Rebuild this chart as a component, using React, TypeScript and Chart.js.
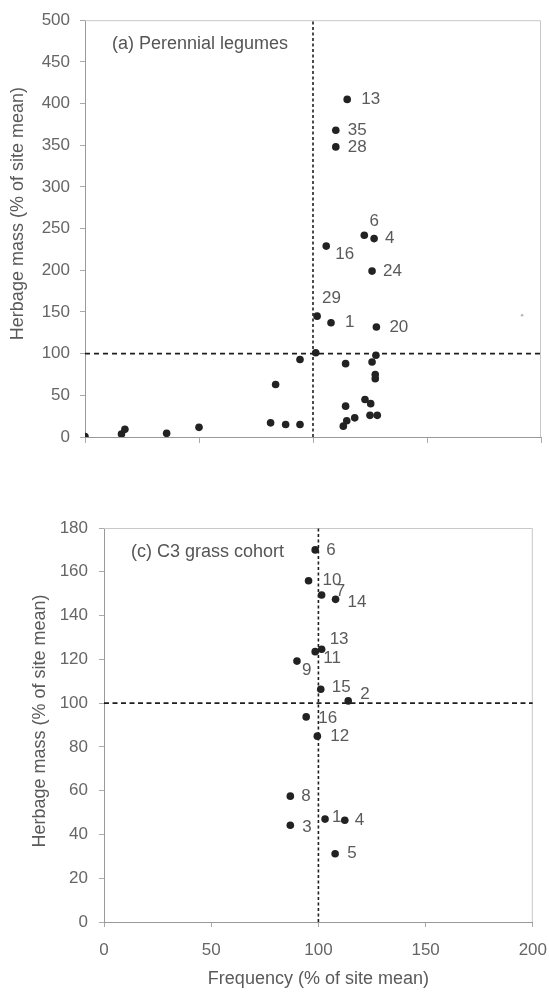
import React, { useEffect, useRef } from 'react';
import { Chart, registerables } from 'chart.js';

Chart.register(...registerables);

// ---------------- Panel (a): Perennial legumes ----------------
const legumeLabels = ['13', '35', '28', '6', '4', '16', '24', '29', '1', '20'];
const legumeLabeledX = [115.0, 110.0, 110.0, 122.5, 126.8, 105.8, 125.9, 101.8, 107.9, 127.8];
const legumeLabeledY = [405, 368, 348, 242, 238, 229, 199, 145, 137, 132];

const legumeOtherX = [101.2, 94.3, 114.3, 127.6, 125.9, 127.3, 127.3, 83.6, 114.3, 122.8, 125.3, 125.0, 128.2, 118.3, 114.8, 113.3, 81.4, 88.0, 94.3, 0.0, 16.0, 17.5, 35.8, 50.0];
const legumeOtherY = [101, 93, 88, 98, 90, 75, 70, 63, 37, 45, 40, 26, 26, 23, 19.5, 13, 17, 15, 15, 0.4, 3.6, 9.2, 4.4, 11.6];

const legumeFaintX = [191.7];
const legumeFaintY = [146];

const legumeTitle = '(a) Perennial legumes';
const legumeXMin = 0;
const legumeXMax = 200;
const legumeXStep = 50;
const legumeYMin = 0;
const legumeYMax = 500;
const legumeYStep = 50;

// ---------------- Panel (c): C3 grass cohort ----------------
const c3Labels = ['6', '10', '7', '14', '13', '11', '9', '15', '2', '16', '12', '8', '3', '1', '4', '5'];
const c3X = [98.5, 95.4, 101.5, 108.0, 101.5, 98.5, 90.0, 101.1, 113.9, 94.3, 99.5, 86.9, 86.9, 103.1, 112.3, 107.8];
const c3Y = [170.0, 155.9, 149.4, 147.4, 124.6, 123.5, 119.2, 106.3, 101.0, 93.7, 84.9, 57.5, 44.2, 47.0, 46.5, 31.2];

const c3Title = '(c) C3 grass cohort';
const c3XMin = 0;
const c3XMax = 200;
const c3XStep = 50;
const c3YMin = 0;
const c3YMax = 180;
const c3YStep = 20;

// Reference (site mean) lines
const siteMean = 100;

const yAxisTitle = 'Herbage mass (% of site mean)';
const xAxisTitle = 'Frequency (% of site mean)';

// ---------------- Styling (not data) ----------------
const FONT = "'Liberation Sans', Arial, sans-serif";
const legumePlacement: Record<string, { dx: number; dy: number; align?: CanvasTextAlign }> = {
  '13': { dx: 14, dy: 0 },
  '35': { dx: 12, dy: 0 },
  '28': { dx: 12, dy: 0 },
  '6': { dx: 10, dy: -14, align: 'center' },
  '4': { dx: 11, dy: 0 },
  '16': { dx: 9, dy: 8 },
  '24': { dx: 11, dy: 0 },
  '29': { dx: 5, dy: -18 },
  '1': { dx: 14, dy: 0 },
  '20': { dx: 13, dy: 0 },
};
const c3Placement: Record<string, { dx: number; dy: number; align?: CanvasTextAlign }> = {
  '6': { dx: 11, dy: 0 },
  '10': { dx: 14, dy: 0 },
  '7': { dx: 14, dy: -4 },
  '14': { dx: 12, dy: 3 },
  '13': { dx: 8, dy: -10 },
  '11': { dx: 8, dy: 7 },
  '9': { dx: 5, dy: 9 },
  '15': { dx: 11, dy: -2 },
  '2': { dx: 12, dy: -7 },
  '16': { dx: 12, dy: 1 },
  '12': { dx: 13, dy: 0 },
  '8': { dx: 11, dy: 0 },
  '3': { dx: 12, dy: 2 },
  '1': { dx: 7, dy: -2 },
  '4': { dx: 10, dy: 0 },
  '5': { dx: 12, dy: 0 },
};

const decorPlugin = {
  id: 'decor',
  beforeDatasetsDraw(chart: any, _a: any, opts: any) {
    const { ctx, chartArea: a } = chart;
    ctx.save();
    ctx.strokeStyle = opts.frameColor || '#c8c8c8';
    ctx.lineWidth = 1;
    ctx.beginPath();
    ctx.moveTo(a.left, a.top + 0.5);
    ctx.lineTo(a.right - 0.5, a.top + 0.5);
    ctx.lineTo(a.right - 0.5, a.bottom);
    ctx.stroke();
    ctx.restore();
  },
  afterDatasetsDraw(chart: any, _a: any, opts: any) {
    const { ctx, chartArea: a } = chart;
    ctx.save();
    // point labels
    const meta = chart.getDatasetMeta(0);
    ctx.font = `17px ${FONT}`;
    ctx.fillStyle = '#5a5a5a';
    ctx.textBaseline = 'middle';
    meta.data.forEach((pt: any, i: number) => {
      const lab = opts.labels[i];
      const p = opts.placement[lab] || { dx: 12, dy: 0 };
      ctx.textAlign = p.align || 'left';
      ctx.fillText(lab, pt.x + p.dx, pt.y + p.dy);
    });
    // panel title
    ctx.font = `18px ${FONT}`;
    ctx.textAlign = 'left';
    ctx.fillStyle = '#555';
    ctx.fillText(opts.panelTitle, a.left + 27, a.top + 24);
    // y axis title
    ctx.translate(opts.yTitleX, (a.top + a.bottom) / 2 + opts.yTitleShift);
    ctx.rotate(-Math.PI / 2);
    ctx.textAlign = 'center';
    ctx.fillStyle = '#5a5a5a';
    ctx.fillText(yAxisTitle, 0, 0);
    ctx.restore();
  },
};

function toPoints(xs: number[], ys: number[]) {
  return xs.map((x, i) => ({ x, y: ys[i] }));
}

function refLines(xMin: number, xMax: number, yMin: number, yMax: number, vDash: number[], hDash: number[]) {
  const common = {
    showLine: true,
    pointRadius: 0,
    borderColor: '#1e1e1e',
    borderWidth: 1.6,
    fill: false,
  };
  return [
    { ...common, data: [{ x: siteMean, y: yMin }, { x: siteMean, y: yMax }], borderDash: vDash },
    { ...common, data: [{ x: xMin, y: siteMean }, { x: xMax, y: siteMean }], borderDash: hDash },
  ];
}

function Panel({ build, width, height, top }: { build: () => any; width: number; height: number; top: number }) {
  const ref = useRef<HTMLCanvasElement>(null);
  useEffect(() => {
    if (!ref.current) return;
    const chart = new Chart(ref.current, build());
    return () => chart.destroy();
  }, []);
  return (
    <canvas
      ref={ref}
      width={width}
      height={height}
      style={{ position: 'absolute', left: 0, top, width, height, display: 'block' }}
    />
  );
}

const tickFont = { family: FONT, size: 17 };

function buildLegume() {
  return {
    type: 'scatter',
    data: {
      datasets: [
        { data: toPoints(legumeLabeledX, legumeLabeledY), pointRadius: 3.8, backgroundColor: '#222', borderWidth: 0 },
        { data: toPoints(legumeOtherX, legumeOtherY), pointRadius: 3.8, backgroundColor: '#222', borderWidth: 0 },
        { data: toPoints(legumeFaintX, legumeFaintY), pointRadius: 1.3, backgroundColor: '#b5b5b5', borderWidth: 0 },
        ...refLines(legumeXMin, legumeXMax, legumeYMin, legumeYMax, [3, 2.5], [5, 4]),
      ],
    },
    options: {
      responsive: false,
      animation: false,
      devicePixelRatio: 1,
      layout: { padding: { top: 19, right: 8, left: 0, bottom: 0 } },
      plugins: {
        legend: { display: false },
        tooltip: { enabled: false },
        decor: { labels: legumeLabels, placement: legumePlacement, panelTitle: legumeTitle, yTitleX: 18, yTitleShift: -15 },
      },
      scales: {
        x: {
          type: 'linear',
          min: legumeXMin,
          max: legumeXMax,
          ticks: { display: false, stepSize: legumeXStep },
          grid: { drawOnChartArea: false, drawTicks: true, tickLength: 6, color: '#aaa' },
          border: { color: '#999' },
          afterFit: (s: any) => { s.height = 33; },
        },
        y: {
          min: legumeYMin,
          max: legumeYMax,
          ticks: { stepSize: legumeYStep, font: tickFont, color: '#666', padding: 10 },
          grid: { drawOnChartArea: false, drawTicks: true, tickLength: 5, color: '#aaa' },
          border: { color: '#999' },
          afterFit: (s: any) => { s.width = 85; },
        },
      },
    },
    plugins: [decorPlugin],
  };
}

function buildC3() {
  return {
    type: 'scatter',
    data: {
      datasets: [
        { data: toPoints(c3X, c3Y), pointRadius: 3.8, backgroundColor: '#222', borderWidth: 0 },
        ...refLines(c3XMin, c3XMax, c3YMin, c3YMax, [3, 2.5], [5, 3.5]),
      ],
    },
    options: {
      responsive: false,
      animation: false,
      devicePixelRatio: 1,
      layout: { padding: { top: 48, right: 24, left: 0, bottom: 0 } },
      plugins: {
        legend: { display: false },
        tooltip: { enabled: false },
        decor: { labels: c3Labels, placement: c3Placement, panelTitle: c3Title, yTitleX: 40, yTitleShift: -4 },
      },
      scales: {
        x: {
          type: 'linear',
          min: c3XMin,
          max: c3XMax,
          ticks: { stepSize: c3XStep, font: tickFont, color: '#666', padding: 13, maxRotation: 0 },
          grid: { drawOnChartArea: false, drawTicks: true, tickLength: 5, color: '#aaa' },
          border: { color: '#999' },
          title: { display: true, text: xAxisTitle, font: { family: FONT, size: 18 }, color: '#5a5a5a', padding: { top: 0, bottom: 3 } },
          afterFit: (s: any) => { s.height = 71; },
        },
        y: {
          min: c3YMin,
          max: c3YMax,
          ticks: { stepSize: c3YStep, font: tickFont, color: '#666', padding: 11 },
          grid: { drawOnChartArea: false, drawTicks: true, tickLength: 5, color: '#aaa' },
          border: { color: '#999' },
          afterFit: (s: any) => { s.width = 104; },
        },
      },
    },
    plugins: [decorPlugin],
  };
}

export default function App() {
  return (
    <div style={{ position: 'absolute', left: 0, top: 0, width: 549, height: 993, overflow: 'hidden', background: '#fff' }}>
      <Panel build={buildLegume} width={549} height={470} top={0} />
      <Panel build={buildC3} width={560} height={513} top={480} />
    </div>
  );
}
